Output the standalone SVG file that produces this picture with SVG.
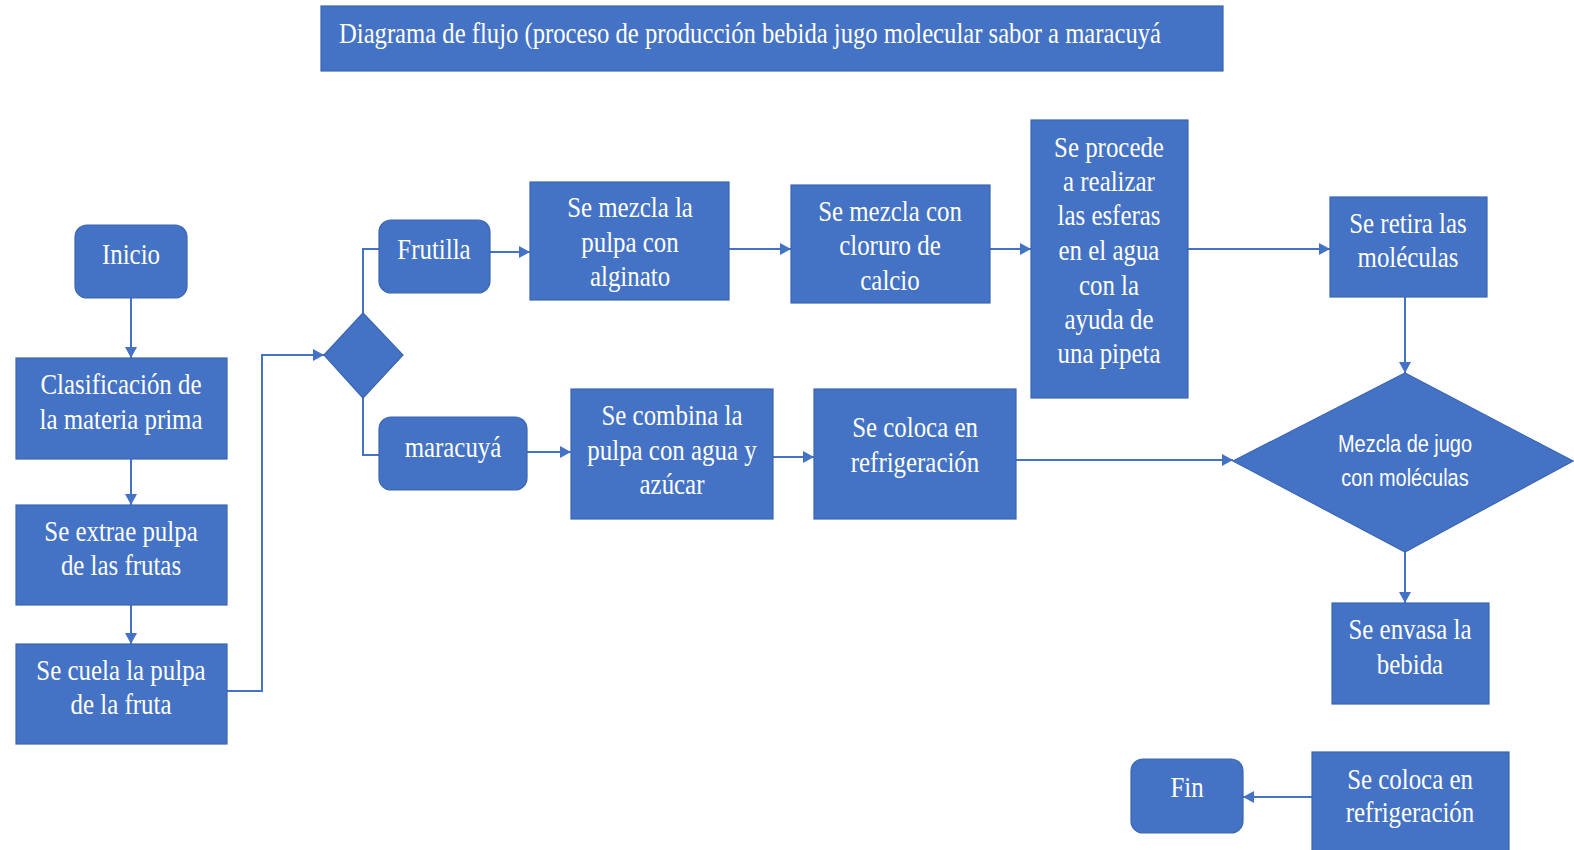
<svg xmlns="http://www.w3.org/2000/svg" width="1574" height="850" viewBox="0 0 1574 850">
<style>
.box{fill:#4472C4;stroke:#3B66B3;stroke-width:1.2}
.t{font-size:30px;fill:#fff;text-anchor:middle;transform-box:fill-box;transform-origin:center;transform:scaleX(.83)}
.s{font-size:24px;fill:#fff;text-anchor:middle;transform-box:fill-box;transform-origin:center;transform:scaleX(.83)}
.c{fill:none;stroke:#4472C4;stroke-width:2}
</style>
<defs>
<marker id="ah" markerUnits="userSpaceOnUse" markerWidth="12" markerHeight="12" refX="11" refY="6" orient="auto"><path d="M0,0 L11,6 L0,12 z" fill="#4472C4"/></marker>
</defs>
<rect width="1574" height="850" fill="#fff"/>
<g font-family="Liberation Serif, Times New Roman, serif">
<g id="title"><rect class="box" x="321" y="6" width="902" height="65"/>
<text x="339" y="43" font-size="30" fill="#fff" textLength="822" lengthAdjust="spacingAndGlyphs">Diagrama de flujo (proceso de producción bebida jugo molecular sabor a maracuyá</text></g>
<g id="connectors">
<path class="c" d="M131,298 V358" marker-end="url(#ah)"/>
<path class="c" d="M131,459 V505" marker-end="url(#ah)"/>
<path class="c" d="M131,605 V644" marker-end="url(#ah)"/>
<path class="c" d="M227,691 H262 V355 H324" marker-end="url(#ah)"/>
<path class="c" d="M363,313 V249 H379"/>
<path class="c" d="M363,398 V455 H379"/>
<path class="c" d="M490,252 H530" marker-end="url(#ah)"/>
<path class="c" d="M729,249 H791" marker-end="url(#ah)"/>
<path class="c" d="M990,249 H1031" marker-end="url(#ah)"/>
<path class="c" d="M1188,249 H1330" marker-end="url(#ah)"/>
<path class="c" d="M1405,297 V373" marker-end="url(#ah)"/>
<path class="c" d="M527,452 H571" marker-end="url(#ah)"/>
<path class="c" d="M773,457 H814" marker-end="url(#ah)"/>
<path class="c" d="M1016,460 H1233" marker-end="url(#ah)"/>
<path class="c" d="M1405,552 V603" marker-end="url(#ah)"/>
<path class="c" d="M1312,797 H1243" marker-end="url(#ah)"/>
</g>
<g id="inicio"><rect class="box" x="75" y="225" width="112" height="73" rx="12"/><text class="t" x="131" y="264">Inicio</text></g>
<g id="clasificacion"><rect class="box" x="16" y="358" width="211" height="101"/><text class="t" x="121" y="394">Clasificación de</text><text class="t" x="121" y="429">la materia prima</text></g>
<g id="extrae"><rect class="box" x="16" y="505" width="211" height="100"/><text class="t" x="121" y="541">Se extrae pulpa</text><text class="t" x="121" y="575">de las frutas</text></g>
<g id="cuela"><rect class="box" x="16" y="644" width="211" height="100"/><text class="t" x="121" y="680">Se cuela la pulpa</text><text class="t" x="121" y="714">de la fruta</text></g>
<g id="decision"><polygon class="box" points="324,355 363,313 403,355 363,398"/></g>
<g id="frutilla"><rect class="box" x="379" y="220" width="111" height="73" rx="12"/><text class="t" x="434" y="259">Frutilla</text></g>
<g id="alginato"><rect class="box" x="530" y="182" width="199" height="118"/><text class="t" x="630" y="217">Se mezcla la</text><text class="t" x="630" y="252">pulpa con</text><text class="t" x="630" y="286">alginato</text></g>
<g id="cloruro"><rect class="box" x="791" y="185" width="199" height="118"/><text class="t" x="890" y="221">Se mezcla con</text><text class="t" x="890" y="255">cloruro de</text><text class="t" x="890" y="290">calcio</text></g>
<g id="esferas"><rect class="box" x="1031" y="120" width="157" height="278"/><text class="t" x="1109" y="157">Se procede</text><text class="t" x="1109" y="191">a realizar</text><text class="t" x="1109" y="225">las esferas</text><text class="t" x="1109" y="260">en el agua</text><text class="t" x="1109" y="295">con la</text><text class="t" x="1109" y="329">ayuda de</text><text class="t" x="1109" y="363">una pipeta</text></g>
<g id="retira"><rect class="box" x="1330" y="197" width="157" height="100"/><text class="t" x="1408" y="233">Se retira las</text><text class="t" x="1408" y="267">moléculas</text></g>
<g id="mezcla" font-family="Liberation Sans, Arial, sans-serif"><polygon class="box" points="1233,461 1405,373 1573,461 1405,552"/><text class="s" x="1405" y="452">Mezcla de jugo</text><text class="s" x="1405" y="486">con moléculas</text></g>
<g id="maracuya"><rect class="box" x="379" y="417" width="148" height="73" rx="12"/><text class="t" x="453" y="457">maracuyá</text></g>
<g id="combina"><rect class="box" x="571" y="389" width="202" height="130"/><text class="t" x="672" y="425">Se combina la</text><text class="t" x="672" y="460">pulpa con agua y</text><text class="t" x="672" y="494">azúcar</text></g>
<g id="refrigeracion1"><rect class="box" x="814" y="389" width="202" height="130"/><text class="t" x="915" y="437">Se coloca en</text><text class="t" x="915" y="472">refrigeración</text></g>
<g id="envasa"><rect class="box" x="1332" y="603" width="157" height="101"/><text class="t" x="1410" y="639">Se envasa la</text><text class="t" x="1410" y="674">bebida</text></g>
<g id="refrigeracion2"><rect class="box" x="1312" y="752" width="197" height="110"/><text class="t" x="1410" y="789">Se coloca en</text><text class="t" x="1410" y="822">refrigeración</text></g>
<g id="fin"><rect class="box" x="1131" y="759" width="112" height="74" rx="12"/><text class="t" x="1187" y="797">Fin</text></g>
</g>
</svg>
